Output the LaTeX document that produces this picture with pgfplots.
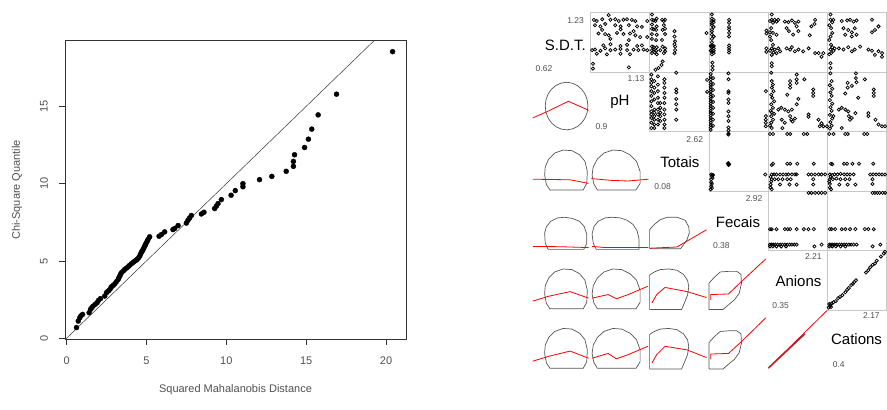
\documentclass[border=0pt]{standalone}
\usepackage{fontspec}
\setmainfont{Liberation Sans}
\usepackage{pgfplots}
\pgfplotsset{compat=1.18}
\definecolor{axgray}{HTML}{333333}
\definecolor{txtgray}{HTML}{505050}
\definecolor{framegray}{HTML}{C8C8C8}
\definecolor{ellgray}{HTML}{555555}
\pgfplotsset{
  at cell/.style 2 args={x filter/.expression={x+#1}, y filter/.expression={y+#2}},
  spm pts/.style={only marks, mark=o, mark size=1.6pt, black, mark options={line width=0.75pt}},
  spm ell/.style={draw=ellgray, line width=0.7pt, no marks},
  spm lo/.style={draw=red, line width=0.8pt, no marks},
}
\newcommand\numf{\fontsize{8.5}{10}\selectfont}
\newcommand\varf{\fontsize{15}{18}\selectfont}
\begin{document}
\begin{tikzpicture}
\path[use as bounding box] (0pt,0pt) rectangle (887pt,410pt);

% ---- chi-square QQ plot
\begin{axis}[at={(65pt,71pt)}, anchor=south west, scale only axis,
  width=341pt, height=298.3pt,
  xmin=-0.1, xmax=21.25, ymin=-0.05, ymax=19.25,
  xtick={0,5,10,15,20}, ytick={0,5,10,15},
  xtick pos=bottom, ytick pos=left,
  tick align=outside, major tick length=6pt,
  axis line style={axgray, line width=0.6pt},
  tick style={axgray, line width=0.6pt},
  /pgf/number format/assume math mode=true,
  ticklabel style={font=\fontsize{11}{13}\selectfont, text=txtgray},
  xticklabel style={anchor=center, yshift=-16pt},
  yticklabel style={anchor=center, xshift=-15pt, rotate=90},
  xlabel={Squared Mahalanobis Distance},
  ylabel={Chi-Square Quantile},
  every axis x label/.style={at={(axis description cs:0.5,-0.171)}, anchor=center,
    font=\fontsize{11}{13}\selectfont, text=txtgray},
  every axis y label/.style={at={(axis description cs:-0.141,0.5)}, anchor=center, rotate=90,
    font=\fontsize{11}{13}\selectfont, text=txtgray},
]
\addplot[axgray, line width=0.5pt, no marks] coordinates {(-0.1,-0.1) (19.4,19.4)};
\addplot[only marks, mark=*, mark size=2.5pt, black] coordinates {
(0.62,0.69)(0.73,1.11)(0.83,1.33)(0.9,1.45)(1.0,1.54)(1.41,1.65)(1.5,1.87)(1.58,1.98)
(1.66,2.08)(1.8,2.2)(1.91,2.3)(2.0,2.45)(2.12,2.56)(2.39,2.73)(2.5,2.95)(2.6,3.05)
(2.66,3.1)(2.75,3.22)(2.81,3.33)(2.92,3.42)(3.02,3.52)(3.12,3.66)(3.23,3.8)(3.28,3.92)
(3.33,4.02)(3.38,4.13)(3.43,4.24)(3.55,4.35)(3.64,4.45)(3.75,4.54)(3.85,4.62)(3.95,4.72)
(4.06,4.82)(4.17,4.91)(4.27,4.99)(4.35,5.05)(4.42,5.1)(4.5,5.2)(4.58,5.31)(4.63,5.44)
(4.69,5.57)(4.75,5.66)(4.79,5.74)(4.84,5.85)(4.89,5.96)(4.94,6.06)(4.99,6.17)(5.05,6.28)
(5.1,6.39)(5.2,6.56)(5.79,6.6)(5.94,6.71)(6.14,6.88)(6.66,7.03)(6.77,7.1)(6.98,7.29)
(7.5,7.45)(7.6,7.63)(7.7,7.78)(7.81,7.94)(8.44,8.04)(8.6,8.15)(9.27,8.39)(9.38,8.55)
(9.48,8.71)(9.69,8.97)(10.3,9.25)(10.56,9.55)(11.04,9.8)(11.04,10.0)(12.08,10.26)
(12.85,10.47)(13.75,10.8)(14.2,11.12)(14.2,11.44)(14.27,11.87)(14.9,12.34)(15.14,12.88)
(15.35,13.53)(15.75,14.45)(16.9,15.79)(20.41,18.54)};
\end{axis}

% ---- scatterplot matrix: frames of the upper panels
\foreach \r/\c in {1/2,1/3,1/4,1/5,1/6,2/3,2/4,2/5,2/6,3/4,3/5,3/6,4/5,4/6,5/6}
  \draw[framegray, line width=0.7pt] ({(531+(\c-1)*59.3)*1pt},{(40.5+(6-\r)*59.467)*1pt}) rectangle ++(59.3pt,59.467pt);

\begin{axis}[at={(531pt,40.5pt)}, anchor=south west, scale only axis,
  width=355.8pt, height=356.8pt, xmin=0, xmax=6, ymin=0, ymax=6,
  hide axis, clip=false]

% diagonal
\node[font=\varf] at (axis cs:0.58,5.455) {S.D.T.};
\node[font=\numf, text=txtgray, anchor=east] at (axis cs:0.95,5.875) {1.23};
\node[font=\numf, text=txtgray, anchor=west] at (axis cs:0.02,5.06) {0.62};
\node[font=\varf] at (axis cs:1.5,4.5) {pH};
\node[font=\numf, text=txtgray, anchor=east] at (axis cs:1.97,4.89) {1.13};
\node[font=\numf, text=txtgray, anchor=west] at (axis cs:1.03,4.08) {0.9};
\node[font=\varf] at (axis cs:2.51,3.48) {Totais};
\node[font=\numf, text=txtgray, anchor=east] at (axis cs:2.96,3.87) {2.62};
\node[font=\numf, text=txtgray, anchor=west] at (axis cs:2.02,3.08) {0.08};
\node[font=\varf] at (axis cs:3.49,2.48) {Fecais};
\node[font=\numf, text=txtgray, anchor=east] at (axis cs:3.96,2.88) {2.92};
\node[font=\numf, text=txtgray, anchor=west] at (axis cs:3.01,2.08) {0.38};
\node[font=\varf] at (axis cs:4.51,1.48) {Anions};
\node[font=\numf, text=txtgray, anchor=east] at (axis cs:4.96,1.9) {2.21};
\node[font=\numf, text=txtgray, anchor=west] at (axis cs:4.01,1.08) {0.35};
\node[font=\varf] at (axis cs:5.49,0.51) {Cations};
\node[font=\numf, text=txtgray, anchor=east] at (axis cs:5.94,0.9) {2.17};
\node[font=\numf, text=txtgray, anchor=west] at (axis cs:5.03,0.09) {0.4};

% upper panels: scatter
\addplot[spm pts, at cell={1}{5}] coordinates {
(0.31,0.96)(0.06,0.88)(0.11,0.86)(0.2,0.89)(0.34,0.88)(0.42,0.89)(0.48,0.86)(0.56,0.88)(0.62,0.89)
(0.7,0.88)(0.76,0.86)(0.96,0.86)(0.08,0.79)(0.17,0.77)(0.25,0.81)(0.42,0.79)(0.51,0.77)(0.65,0.79)
(0.79,0.77)(0.87,0.76)(0.2,0.71)(0.51,0.72)(0.73,0.69)(0.14,0.65)(0.25,0.64)(0.31,0.62)(0.45,0.66)
(0.56,0.64)(0.67,0.65)(0.76,0.62)(0.84,0.59)(0.34,0.56)(0.65,0.54)(0.96,0.59)(0.22,0.45)(0.34,0.47)
(0.51,0.44)(0.62,0.46)(0.79,0.44)(0.87,0.45)(0.03,0.37)(0.08,0.38)(0.17,0.36)(0.25,0.4)(0.34,0.37)
(0.42,0.38)(0.51,0.39)(0.62,0.37)(0.73,0.38)(0.81,0.37)(0.9,0.38)(0.96,0.37)(0.11,0.31)(0.28,0.3)
(0.51,0.31)(0.67,0.3)(0.045,0.14)(0.045,0.06)(0.65,0.08)};
\addplot[spm pts, at cell={2}{5}] coordinates {
(0.04,0.97)(0.04,0.88)(0.1,0.86)(0.12,0.9)(0.21,0.88)(0.24,0.86)(0.26,0.88)(0.07,0.87)
(0.04,0.8)(0.12,0.77)(0.24,0.79)(0.04,0.73)(0.11,0.71)(0.22,0.71)(0.26,0.73)(0.42,0.69)(0.07,0.72)
(0.04,0.64)(0.12,0.63)(0.26,0.64)(0.42,0.6)(0.04,0.56)(0.11,0.54)(0.21,0.54)(0.43,0.52)(0.42,0.47)
(0.04,0.43)(0.12,0.42)(0.22,0.43)(0.26,0.4)(0.43,0.43)(0.07,0.42)(0.07,0.38)(0.09,0.33)
(0.04,0.37)(0.11,0.36)(0.18,0.37)(0.26,0.35)(0.43,0.37)(0.04,0.32)(0.12,0.3)(0.24,0.32)(0.42,0.32)
(0.22,0.18)(0.2,0.12)(0.1,0.04)(0.15,0.07)(0.96,0.66)};
\addplot[spm pts, at cell={3}{5}] coordinates {
(0.05,0.97)(0.05,0.9)(0.08,0.88)(0.05,0.86)(0.08,0.84)(0.05,0.82)(0.05,0.79)(0.08,0.76)(0.05,0.72)
(0.05,0.68)(0.05,0.63)(0.08,0.6)(0.05,0.56)(0.05,0.5)(0.05,0.45)(0.08,0.44)(0.05,0.42)(0.08,0.4)
(0.05,0.38)(0.08,0.36)(0.05,0.34)(0.08,0.32)(0.05,0.3)(0.03,0.44)(0.03,0.36)
(0.34,0.88)(0.34,0.83)(0.34,0.76)(0.34,0.72)(0.34,0.66)(0.34,0.6)(0.34,0.45)(0.34,0.41)(0.34,0.37)
(0.34,0.33)(0.06,0.16)(0.06,0.1)(0.06,0.04)(0.97,0.7)(0.97,0.65)(0.97,0.4)(0.97,0.34)};
\addplot[spm pts, at cell={4}{5}] coordinates {
(0.06,0.97)(0.06,0.88)(0.08,0.83)(0.11,0.88)(0.14,0.85)(0.17,0.88)(0.03,0.86)
(0.05,0.74)(0.08,0.66)(0.14,0.63)(0.03,0.67)(0.03,0.6)(0.05,0.54)(0.08,0.46)(0.06,0.4)(0.11,0.38)
(0.17,0.4)(0.2,0.35)(0.06,0.29)(0.03,0.36)(0.09,0.33)(0.14,0.32)
(0.28,0.85)(0.34,0.84)(0.4,0.87)(0.45,0.83)(0.51,0.85)(0.79,0.88)
(0.31,0.74)(0.35,0.69)(0.48,0.77)(0.51,0.69)(0.42,0.63)(0.73,0.77)(0.78,0.81)(0.7,0.62)
(0.31,0.4)(0.37,0.38)(0.4,0.42)(0.45,0.35)(0.51,0.38)(0.59,0.35)(0.68,0.4)(0.79,0.32)(0.85,0.32)
(0.93,0.32)(0.9,0.26)(0.06,0.15)(0.06,0.1)};
\addplot[spm pts, at cell={5}{5}] coordinates {
(0.05,0.97)(0.05,0.88)(0.08,0.84)(0.1,0.88)(0.03,0.79)(0.06,0.74)(0.08,0.66)(0.05,0.6)(0.03,0.54)
(0.06,0.46)(0.08,0.42)(0.05,0.38)(0.1,0.36)(0.06,0.32)(0.03,0.3)(0.12,0.4)
(0.24,0.86)(0.33,0.87)(0.38,0.88)(0.44,0.85)(0.49,0.87)(0.75,0.88)
(0.27,0.74)(0.35,0.71)(0.41,0.67)(0.46,0.74)(0.3,0.63)(0.41,0.6)(0.49,0.63)(0.75,0.67)(0.8,0.71)
(0.86,0.77)(0.19,0.4)(0.27,0.38)(0.35,0.42)(0.41,0.35)(0.46,0.38)(0.55,0.43)(0.69,0.38)(0.75,0.36)
(0.8,0.29)(0.86,0.35)(0.92,0.32)(0.92,0.26)(0.05,0.15)(0.05,0.07)};
\addplot[spm pts, at cell={2}{4}] coordinates {
(0.03,0.96)(0.03,0.88)(0.03,0.82)(0.03,0.76)(0.03,0.68)(0.03,0.6)(0.03,0.51)(0.03,0.43)(0.03,0.34)
(0.03,0.29)(0.03,0.23)(0.03,0.15)(0.03,0.06)
(0.08,0.85)(0.08,0.74)(0.08,0.65)(0.08,0.54)(0.08,0.37)(0.08,0.32)(0.08,0.26)(0.08,0.2)(0.08,0.12)(0.08,0.06)
(0.14,0.93)(0.14,0.79)(0.14,0.68)(0.14,0.57)(0.14,0.48)(0.14,0.37)(0.14,0.29)(0.14,0.2)(0.14,0.12)
(0.18,0.48)(0.18,0.4)(0.18,0.32)(0.18,0.26)(0.18,0.18)
(0.25,0.88)(0.25,0.82)(0.25,0.74)(0.25,0.65)(0.25,0.57)(0.25,0.48)(0.25,0.37)(0.25,0.29)(0.25,0.2)
(0.25,0.12)(0.25,0.06)
(0.45,0.99)(0.45,0.71)(0.45,0.66)(0.45,0.55)(0.45,0.46)(0.45,0.37)(0.45,0.2)(0.97,0.87)(0.97,0.67)};
\addplot[spm pts, at cell={3}{4}] coordinates {
(0.03,0.97)(0.03,0.92)(0.03,0.88)(0.03,0.83)(0.03,0.79)(0.03,0.75)(0.03,0.71)(0.03,0.67)(0.03,0.63)
(0.03,0.59)(0.03,0.55)(0.03,0.51)(0.03,0.47)(0.03,0.43)(0.03,0.39)(0.03,0.35)(0.03,0.31)(0.03,0.27)
(0.03,0.23)(0.03,0.19)(0.03,0.15)(0.03,0.11)(0.03,0.07)(0.03,0.03)
(0.07,0.9)(0.07,0.8)(0.07,0.7)(0.07,0.6)(0.07,0.5)(0.07,0.4)(0.07,0.3)(0.07,0.2)(0.07,0.1)
(0.33,0.98)(0.33,0.88)(0.33,0.68)(0.33,0.65)(0.33,0.54)(0.33,0.48)(0.33,0.34)(0.33,0.26)(0.33,0.18)
(0.33,0.07)(0.33,0.02)(0.96,0.68)(0.96,0.26)(0.96,0.2)(0.96,0.15)(0.96,0.09)};
\addplot[spm pts, at cell={4}{4}] coordinates {
(0.05,0.99)(0.06,0.85)(0.08,0.79)(0.06,0.74)(0.09,0.68)(0.05,0.62)(0.07,0.57)(0.1,0.51)(0.05,0.46)
(0.08,0.4)(0.06,0.32)(0.05,0.26)(0.08,0.2)(0.05,0.15)(0.06,0.06)(0.03,0.1)(0.04,0.35)(0.1,0.3)
(0.37,0.85)(0.37,0.79)(0.37,0.74)(0.48,0.96)(0.48,0.88)(0.48,0.82)(0.61,0.88)(0.32,0.62)(0.51,0.55)
(0.76,0.71)(0.76,0.65)(0.76,0.6)(0.17,0.37)(0.22,0.4)(0.28,0.37)(0.34,0.34)(0.4,0.37)(0.37,0.26)
(0.39,0.2)(0.41,0.17)(0.45,0.22)(0.23,0.2)(0.28,0.15)(0.68,0.29)(0.68,0.25)(0.48,0.46)(0.85,0.2)
(0.9,0.14)(0.87,0.09)(0.93,0.09)(0.99,0.09)(0.24,0.06)};
\addplot[spm pts, at cell={5}{4}] coordinates {
(0.05,0.98)(0.07,0.85)(0.04,0.78)(0.08,0.72)(0.05,0.66)(0.07,0.6)(0.04,0.53)(0.08,0.47)(0.05,0.41)
(0.07,0.35)(0.04,0.28)(0.08,0.22)(0.05,0.16)(0.07,0.1)(0.04,0.05)(0.1,0.26)
(0.34,0.74)(0.34,0.82)(0.41,0.77)(0.48,0.98)(0.48,0.9)(0.49,0.83)(0.63,0.88)(0.3,0.64)(0.52,0.57)
(0.78,0.71)(0.78,0.65)(0.78,0.6)(0.19,0.37)(0.24,0.4)(0.3,0.37)(0.35,0.34)(0.36,0.26)(0.38,0.2)
(0.41,0.23)(0.47,0.31)(0.69,0.31)(0.69,0.26)(0.81,0.2)(0.86,0.12)(0.92,0.09)(0.97,0.09)(0.24,0.06)};
\addplot[spm pts, at cell={3}{3}] coordinates {
(0.33,0.97)(0.33,0.95)(0.33,0.47)(0.34,0.45)(0.32,0.46)(0.33,0.44)(0.04,0.28)(0.05,0.25)(0.04,0.2)
(0.06,0.22)(0.07,0.27)(0.04,0.15)(0.05,0.12)(0.04,0.08)(0.05,0.05)(0.06,0.27)(0.03,0.03)(0.95,0.28)};
\addplot[spm pts, at cell={4}{3}] coordinates {
(0.03,0.96)(0.08,0.96)(0.32,0.96)(0.37,0.96)(0.6,0.96)(0.66,0.96)
(0.08,0.46)(0.06,0.44)(0.32,0.46)(0.37,0.46)(0.49,0.46)(0.77,0.46)
(0.06,0.28)(0.1,0.28)(0.14,0.28)(0.2,0.28)(0.25,0.28)(0.3,0.28)(0.34,0.28)(0.4,0.28)(0.45,0.28)
(0.48,0.28)(0.68,0.28)(0.73,0.28)(0.79,0.28)(0.85,0.28)(0.9,0.28)(0.96,0.28)
(0.06,0.2)(0.11,0.2)(0.17,0.2)(0.24,0.2)(0.32,0.2)(0.38,0.2)(0.76,0.2)
(0.04,0.11)(0.2,0.11)(0.36,0.11)(0.48,0.11)(0.76,0.11)(0.04,0.06)(0.06,0.03)(0.04,0.24)(0.05,0.16)};
\addplot[spm pts, at cell={5}{3}] coordinates {
(0.03,0.96)(0.1,0.96)(0.3,0.96)(0.34,0.96)(0.62,0.96)(0.67,0.96)
(0.06,0.46)(0.08,0.45)(0.28,0.46)(0.33,0.46)(0.42,0.46)(0.53,0.46)(0.77,0.46)
(0.04,0.28)(0.08,0.27)(0.12,0.28)(0.17,0.28)(0.22,0.29)(0.28,0.28)(0.33,0.28)(0.38,0.28)(0.44,0.28)
(0.72,0.28)(0.77,0.28)(0.82,0.28)(0.87,0.28)(0.92,0.28)(0.97,0.28)
(0.04,0.2)(0.09,0.2)(0.15,0.21)(0.22,0.2)(0.3,0.2)(0.37,0.2)(0.76,0.2)
(0.04,0.12)(0.2,0.11)(0.34,0.11)(0.47,0.11)(0.76,0.12)(0.04,0.06)(0.06,0.03)(0.03,0.16)(0.05,0.24)};
\addplot[spm pts, at cell={4}{2}] coordinates {
(0.68,0.97)(0.73,0.97)(0.79,0.97)(0.85,0.97)(0.9,0.97)(0.96,0.97)
(0.03,0.36)(0.06,0.36)(0.14,0.36)(0.28,0.36)(0.33,0.36)(0.37,0.36)(0.48,0.36)(0.6,0.36)(0.68,0.36)(0.77,0.36)
(0.03,0.1)(0.06,0.1)(0.09,0.1)(0.12,0.1)(0.16,0.1)(0.2,0.1)(0.24,0.1)(0.28,0.1)(0.32,0.1)(0.36,0.1)
(0.4,0.1)(0.44,0.1)(0.48,0.1)(0.03,0.07)(0.08,0.07)(0.14,0.07)(0.22,0.07)(0.3,0.07)
(0.78,0.07)(0.9,0.1)};
\addplot[spm pts, at cell={5}{2}] coordinates {
(0.76,0.97)(0.8,0.97)(0.84,0.97)(0.88,0.97)(0.93,0.97)(0.97,0.97)
(0.04,0.36)(0.07,0.36)(0.13,0.36)(0.24,0.36)(0.3,0.36)(0.38,0.36)(0.47,0.36)(0.63,0.36)(0.69,0.36)(0.78,0.36)
(0.03,0.1)(0.06,0.1)(0.09,0.1)(0.12,0.1)(0.16,0.1)(0.2,0.1)(0.24,0.1)(0.28,0.1)(0.32,0.1)(0.36,0.1)
(0.4,0.1)(0.44,0.1)(0.49,0.1)(0.03,0.07)(0.08,0.07)(0.14,0.07)(0.22,0.07)(0.3,0.07)
(0.76,0.07)(0.89,0.1)};
\addplot[spm pts, at cell={5}{1}] coordinates {
(0.02,0.04)(0.04,0.06)(0.05,0.09)(0.03,0.1)(0.07,0.11)(0.06,0.05)(0.1,0.13)(0.14,0.15)(0.18,0.2)
(0.21,0.22)(0.25,0.25)(0.3,0.3)(0.33,0.34)(0.36,0.37)(0.4,0.42)(0.43,0.44)(0.45,0.47)(0.48,0.5)
(0.65,0.63)(0.69,0.67)(0.72,0.72)(0.76,0.76)(0.8,0.78)(0.83,0.83)(0.9,0.9)(0.95,0.95)(0.97,0.98)};

% lower panels: ellipses and smooth lines
\addplot[spm ell, at cell={0}{4}] coordinates {
(0.96,0.43)(0.948,0.534)(0.912,0.63)(0.855,0.713)(0.78,0.776)(0.693,0.816)(0.6,0.83)(0.507,0.816)
(0.42,0.776)(0.345,0.713)(0.288,0.63)(0.252,0.534)(0.24,0.43)(0.252,0.326)(0.288,0.23)(0.345,0.147)
(0.42,0.084)(0.507,0.044)(0.6,0.03)(0.693,0.044)(0.78,0.084)(0.855,0.147)(0.912,0.23)(0.948,0.326)(0.96,0.43)};
\addplot[spm lo, at cell={0}{4}] coordinates {(0.03,0.23)(0.3,0.35)(0.63,0.51)(0.97,0.36)};

\addplot[spm ell, at cell={0}{3}] coordinates {(0.32,0.02)(0.26,0.11)(0.23,0.27)(0.24,0.41)(0.3,0.54)(0.4,0.64)(0.54,0.69)(0.69,0.68)(0.82,0.61)(0.91,0.5)(0.95,0.33)(0.94,0.13)(0.88,0.02)(0.32,0.02)};
\addplot[spm lo, at cell={0}{3}] coordinates {(0.03,0.2)(0.66,0.19)(0.97,0.13)};
\addplot[spm ell, at cell={1}{3}] coordinates {(0.12,0.02)(0.06,0.12)(0.03,0.27)(0.05,0.41)(0.12,0.54)(0.23,0.64)(0.38,0.69)(0.53,0.68)(0.67,0.61)(0.78,0.5)(0.84,0.33)(0.84,0.13)(0.77,0.02)(0.12,0.02)};
\addplot[spm lo, at cell={1}{3}] coordinates {(0.02,0.21)(0.36,0.18)(0.64,0.17)(0.98,0.2)};

\addplot[spm ell, at cell={0}{2}] coordinates {(0.29,0.02)(0.24,0.12)(0.23,0.3)(0.26,0.4)(0.33,0.49)(0.45,0.55)(0.57,0.56)(0.7,0.54)(0.82,0.49)(0.9,0.4)(0.94,0.28)(0.94,0.12)(0.89,0.02)(0.29,0.02)};
\addplot[spm lo, at cell={0}{2}] coordinates {(0.03,0.07)(0.49,0.065)(0.97,0.05)};
\addplot[spm ell, at cell={1}{2}] coordinates {(0.1,0.02)(0.05,0.12)(0.03,0.28)(0.06,0.4)(0.13,0.49)(0.25,0.55)(0.37,0.56)(0.5,0.55)(0.62,0.51)(0.72,0.44)(0.79,0.33)(0.82,0.2)(0.82,0.02)(0.1,0.02)};
\addplot[spm lo, at cell={1}{2}] coordinates {(0.03,0.07)(0.25,0.05)(0.98,0.05)};
\addplot[spm ell, at cell={2}{2}] coordinates {(0,0.03)(0,0.35)(0.08,0.44)(0.18,0.52)(0.3,0.56)(0.46,0.56)(0.6,0.51)(0.66,0.4)(0.67,0.3)(0.63,0.18)(0.56,0.08)(0.52,0.03)(0,0.03)};
\addplot[spm lo, at cell={2}{2}] coordinates {(0.01,0.04)(0.46,0.06)(0.96,0.35)};

\addplot[spm ell, at cell={0}{1}] coordinates {(0.32,0.02)(0.26,0.11)(0.23,0.27)(0.24,0.41)(0.3,0.54)(0.4,0.64)(0.54,0.69)(0.69,0.68)(0.82,0.61)(0.91,0.5)(0.95,0.33)(0.94,0.13)(0.88,0.02)(0.32,0.02)};
\addplot[spm lo, at cell={0}{1}] coordinates {(0.03,0.15)(0.29,0.23)(0.66,0.31)(0.97,0.2)};
\addplot[spm ell, at cell={1}{1}] coordinates {(0.12,0.02)(0.06,0.12)(0.03,0.27)(0.05,0.41)(0.12,0.54)(0.23,0.64)(0.38,0.69)(0.53,0.68)(0.67,0.61)(0.78,0.5)(0.84,0.33)(0.84,0.13)(0.77,0.02)(0.12,0.02)};
\addplot[spm lo, at cell={1}{1}] coordinates {(0.03,0.2)(0.3,0.26)(0.44,0.19)(0.64,0.26)(0.97,0.4)};
\addplot[spm ell, at cell={2}{1}] coordinates {(0,0.01)(0,0.59)(0.08,0.64)(0.18,0.68)(0.32,0.69)(0.46,0.67)(0.57,0.6)(0.64,0.5)(0.66,0.39)(0.64,0.25)(0.6,0.15)(0.54,0.01)(0,0.01)};
\addplot[spm lo, at cell={2}{1}] coordinates {(0.04,0.12)(0.12,0.26)(0.26,0.38)(0.63,0.31)(0.96,0.21)};
\addplot[spm ell, at cell={3}{1}] coordinates {(0,0.01)(0,0.45)(0.09,0.55)(0.19,0.64)(0.33,0.65)(0.47,0.65)(0.54,0.6)(0.55,0.45)(0.51,0.28)(0.43,0.17)(0.32,0.08)(0.24,0.01)(0,0.01)};
\addplot[spm lo, at cell={3}{1}] coordinates {(0.03,0.17)(0.03,0.26)(0.33,0.27)(0.55,0.48)(0.96,0.86)};

\addplot[spm ell, at cell={0}{0}] coordinates {(0.32,0.02)(0.26,0.11)(0.23,0.27)(0.24,0.41)(0.3,0.54)(0.4,0.64)(0.54,0.69)(0.69,0.68)(0.82,0.61)(0.91,0.5)(0.95,0.33)(0.94,0.13)(0.88,0.02)(0.32,0.02)};
\addplot[spm lo, at cell={0}{0}] coordinates {(0.03,0.14)(0.29,0.22)(0.66,0.31)(0.97,0.19)};
\addplot[spm ell, at cell={1}{0}] coordinates {(0.12,0.02)(0.06,0.12)(0.03,0.27)(0.05,0.41)(0.12,0.54)(0.23,0.64)(0.38,0.69)(0.53,0.68)(0.67,0.61)(0.78,0.5)(0.84,0.33)(0.84,0.13)(0.77,0.02)(0.12,0.02)};
\addplot[spm lo, at cell={1}{0}] coordinates {(0.03,0.19)(0.3,0.27)(0.44,0.18)(0.64,0.25)(0.97,0.39)};
\addplot[spm ell, at cell={2}{0}] coordinates {(0,0.01)(0,0.59)(0.08,0.64)(0.18,0.68)(0.32,0.69)(0.46,0.67)(0.57,0.6)(0.64,0.5)(0.66,0.39)(0.64,0.25)(0.6,0.15)(0.54,0.01)(0,0.01)};
\addplot[spm lo, at cell={2}{0}] coordinates {(0.04,0.11)(0.12,0.25)(0.26,0.39)(0.63,0.33)(0.96,0.2)};
\addplot[spm ell, at cell={3}{0}] coordinates {(0,0.01)(0,0.45)(0.09,0.55)(0.19,0.64)(0.33,0.65)(0.47,0.65)(0.54,0.6)(0.55,0.45)(0.51,0.28)(0.43,0.17)(0.32,0.08)(0.24,0.01)(0,0.01)};
\addplot[spm lo, at cell={3}{0}] coordinates {(0.03,0.17)(0.03,0.26)(0.33,0.27)(0.55,0.47)(0.96,0.87)};
\addplot[draw=ellgray, line width=1.6pt, no marks, at cell={4}{0}] coordinates {(0.01,0.03)(0.62,0.6)};
\addplot[spm lo, at cell={4}{0}] coordinates {(0,0.02)(0.99,0.99)};
\end{axis}
\end{tikzpicture}
\end{document}
